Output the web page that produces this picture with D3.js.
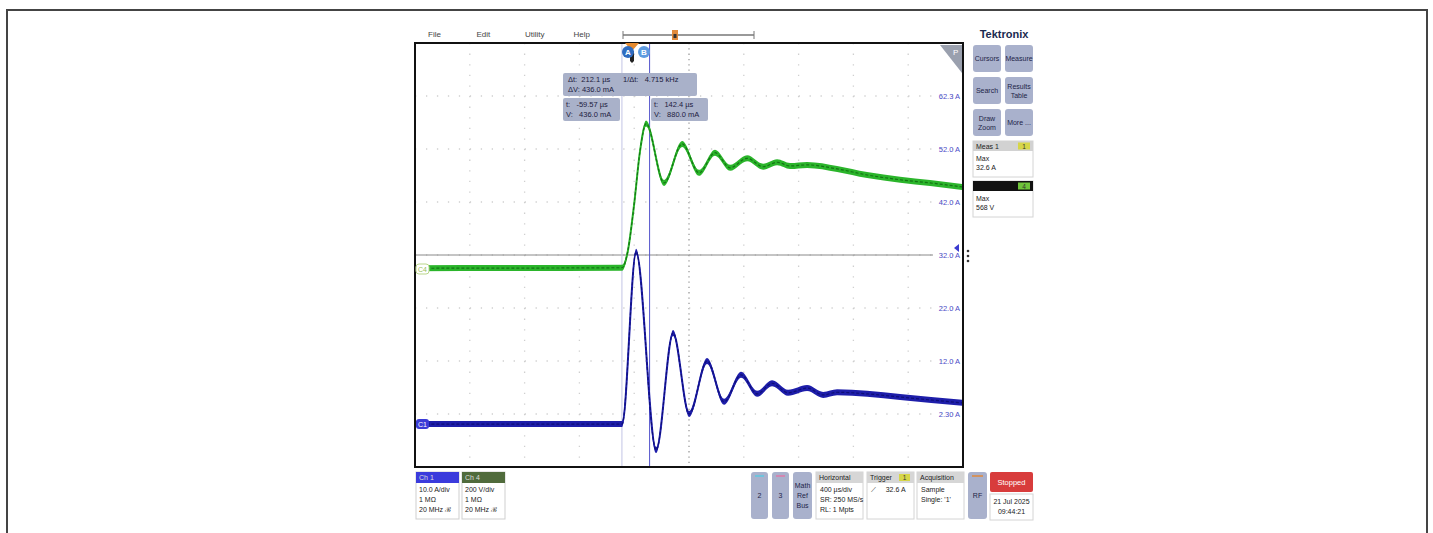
<!DOCTYPE html>
<html>
<head>
<meta charset="utf-8">
<script src="https://cdn.jsdelivr.net/npm/d3@7"></script>
<style>
	body { margin: 0; background: #fff; }
	text { font-family: "Liberation Sans Narrow", "Liberation Sans", Arial, sans-serif; }
</style>
</head>
<body>
<div id="scope"></div>
<script>
/* SET UP */

const w = 1433;
const h = 533;
const plot = { top: 43, right: 963, bottom: 467, left: 415 };

/* DATA */

// Ch1 current (µs, A)
const ch1Time = [-1560, -58, 44, 190, 314, 431, 562, 686, 810, 927, 1037, 1153, 1292, 1409, 1511, 1730, 1971, 2424];
const ch1Amps = [0.1, 0.1, 32.6, -4.8, 17.3, 2.0, 12.0, 4.3, 9.4, 5.8, 7.8, 6.0, 6.9, 5.6, 6.1, 5.8, 5.2, 4.1];

// Ch4 voltage (µs, V)
const ch4Time = [-1560, -58, -15, 29, 73, 117, 248, 380, 504, 620, 730, 854, 971, 1073, 1168, 1292, 1511, 1730, 1971, 2190, 2424];
const ch4Volts = [6, 8, 75, 245, 450, 552, 328, 475, 366, 442, 385, 421, 389, 406, 392, 396, 381, 358, 340, 328, 313];

const ampTicks = [62, 52, 42, 32, 22, 12, 2];
const ampLabels = ["62.3 A", "52.0 A", "42.0 A", "32.0 A", "22.0 A", "12.0 A", "2.30 A"];

const menuLabels = ["File", "Edit", "Utility", "Help"];

const cursorA = -59.57;
const cursorB = 142.4;
const readDelta = ["Δt:  212.1 µs", "1/Δt:   4.715 kHz", "ΔV: 436.0 mA"];
const readA = ["t:   -59.57 µs", "V:   436.0 mA"];
const readB = ["t:   142.4 µs", "V:   880.0 mA"];

const sideButtons = [["Cursors"], ["Measure"], ["Search"], ["Results", "Table"], ["Draw", "Zoom"], ["More ..."]];
const meas1 = ["Max", "32.6 A"];
const meas2 = ["Max", "568 V"];

const ch1Info = ["10.0 A/div", "1 MΩ", "20 MHz ℬ"];
const ch4Info = ["200 V/div", "1 MΩ", "20 MHz ℬ"];
const horizInfo = ["400 µs/div", "SR: 250 MS/s", "RL: 1 Mpts"];
const acqInfo = ["Sample", "Single: '1'"];
const dateInfo = ["21 Jul 2025", "09:44:21"];

/* SCALES */

const x = d3.scaleLinear().domain([-1570, 2430]).range([plot.left, plot.right]);
const yI = d3.scaleLinear().domain([-8, 72]).range([plot.bottom, plot.top]);
const yV = d3.scaleLinear().domain([-744, 856]).range([plot.bottom, plot.top]);
const gx = d3.scaleLinear().domain([0, 10]).range([plot.left, plot.right]);
const gy = d3.scaleLinear().domain([0, 8]).range([plot.top, plot.bottom]);

const svg = d3
	.select("#scope")
	.append("svg")
	.attr("width", w)
	.attr("height", h);

svg.append("rect").attr("width", w).attr("height", h).attr("fill", "#fff");

// outer frame of the screenshot
svg
	.append("rect")
	.attr("x", 7)
	.attr("y", 10)
	.attr("width", 1420)
	.attr("height", 540)
	.attr("fill", "none")
	.attr("stroke", "#444")
	.attr("stroke-width", 2);

/* MENU BAR */

svg
	.selectAll(".menu")
	.data(menuLabels)
	.join("text")
	.attr("class", "menu")
	.attr("x", (d, i) => 428 + i * 48.5)
	.attr("y", 37)
	.attr("font-size", 8)
	.attr("fill", "#444")
	.text((d) => d);

svg.append("line").attr("x1", 623).attr("x2", 754).attr("y1", 35).attr("y2", 35)
	.attr("stroke", "#999").attr("stroke-width", 2);
[623, 754].forEach((v) =>
	svg.append("line").attr("x1", v).attr("x2", v).attr("y1", 31).attr("y2", 39).attr("stroke", "#777"));
svg.append("rect").attr("x", 672).attr("y", 30).attr("width", 6).attr("height", 10).attr("fill", "#e08a3c");
svg.append("rect").attr("x", 673.5).attr("y", 34).attr("width", 3).attr("height", 4).attr("fill", "#333");

/* GRID */

const grid = svg.append("g");
grid
	.selectAll(".vgrid")
	.data(d3.range(1, 10))
	.join("line")
	.attr("x1", (d) => gx(d))
	.attr("x2", (d) => gx(d))
	.attr("y1", plot.top)
	.attr("y2", plot.bottom)
	.attr("stroke", (d) => (d == 5 ? "#9a9a9a" : "#cfcfcf"))
	.attr("stroke-width", 1.3)
	.attr("stroke-dasharray", (d) => (d == 5 ? "1.3,4" : "1.3,9.3"));

grid
	.selectAll(".hgrid")
	.data(d3.range(1, 8))
	.join("line")
	.attr("x1", plot.left)
	.attr("x2", plot.right)
	.attr("y1", (d) => gy(d))
	.attr("y2", (d) => gy(d))
	.attr("stroke", "#cfcfcf")
	.attr("stroke-width", 1.3)
	.attr("stroke-dasharray", "1.3,9.66");

// centre reference line
grid.append("line")
	.attr("x1", plot.left).attr("x2", 933)
	.attr("y1", gy(4)).attr("y2", gy(4))
	.attr("stroke", "#8a8a8a").attr("stroke-width", 1);

/* CURSORS */

svg.append("line").attr("x1", x(cursorA)).attr("x2", x(cursorA))
	.attr("y1", plot.top).attr("y2", plot.bottom)
	.attr("stroke", "#c2c4e6").attr("stroke-width", 1);
svg.append("line").attr("x1", x(cursorB)).attr("x2", x(cursorB))
	.attr("y1", plot.top).attr("y2", plot.bottom)
	.attr("stroke", "#5252cc").attr("stroke-width", 1);

/* TRACES */

function trace(times, vals, yScale, fill, dark) {
	const pts = times.map((t, i) => [t, vals[i]]);
	const band = d3
		.area()
		.x((d) => x(d[0]))
		.y0((d) => yScale(d[1]) - 3)
		.y1((d) => yScale(d[1]) + 3)
		.curve(d3.curveMonotoneX);
	const mid = d3
		.line()
		.x((d) => x(d[0]))
		.y((d) => yScale(d[1]))
		.curve(d3.curveMonotoneX);
	svg.append("path").attr("d", band(pts)).attr("fill", fill);
	svg.append("path").attr("d", mid(pts)).attr("fill", "none")
		.attr("stroke", fill).attr("stroke-width", 2);
	svg.append("path").attr("d", mid(pts)).attr("fill", "none")
		.attr("stroke", dark).attr("stroke-width", 1.2)
		.attr("stroke-dasharray", "3,2").attr("opacity", 0.75);
}

trace(ch4Time, ch4Volts, yV, "#2bb52b", "#0d5e0d");
trace(ch1Time, ch1Amps, yI, "#1e1eaa", "#0a0a66");

/* PLOT FRAME */

svg.append("rect")
	.attr("x", plot.left).attr("y", plot.top)
	.attr("width", plot.right - plot.left).attr("height", plot.bottom - plot.top)
	.attr("fill", "none").attr("stroke", "#111").attr("stroke-width", 2);

// corner badge
svg.append("path").attr("d", "M940,45 L962,45 L962,73 Z").attr("fill", "#9aa0ae");
svg.append("text").attr("x", 953).attr("y", 55).attr("font-size", 8).attr("fill", "#fff").text("P");

// right axis labels
svg
	.selectAll(".ylab")
	.data(ampTicks)
	.join("text")
	.attr("class", "ylab")
	.attr("x", 960)
	.attr("y", (d, i) => yI(d) + 2.5)
	.attr("text-anchor", "end")
	.attr("font-size", 7.5)
	.attr("fill", "#4b4bc8")
	.text((d, i) => ampLabels[i]);

// offset marker and dots
svg.append("path").attr("d", "M954,248 L959,244 L959,252 Z").attr("fill", "#3a3ad0");
[251, 256, 261].forEach((v) =>
	svg.append("circle").attr("cx", 968).attr("cy", v).attr("r", 1.3).attr("fill", "#333"));

// channel tags on left edge
svg.append("rect").attr("x", 416).attr("y", 264).attr("width", 13).attr("height", 10).attr("rx", 3)
	.attr("fill", "#fff").attr("stroke", "#b9d68a");
svg.append("text").attr("x", 418).attr("y", 272).attr("font-size", 7).attr("fill", "#9bc05a").text("C4");
svg.append("rect").attr("x", 416).attr("y", 419).attr("width", 13).attr("height", 10).attr("rx", 3)
	.attr("fill", "#3b3bd6");
svg.append("text").attr("x", 418).attr("y", 427).attr("font-size", 7).attr("fill", "#fff").text("C1");

/* CURSOR READOUTS */

function readout(bx, by, bw, bh, lines, xs) {
	svg.append("rect").attr("x", bx).attr("y", by).attr("width", bw).attr("height", bh)
		.attr("rx", 2).attr("fill", "#a9b1c9");
	lines.forEach((l, i) => {
		svg.append("text").attr("x", bx + xs[i][0]).attr("y", by + xs[i][1])
			.attr("font-size", 7.5).attr("fill", "#1d2040").attr("xml:space", "preserve").text(l);
	});
}
readout(563, 73, 134, 23, readDelta, [[5, 9], [60, 9], [5, 19]]);
readout(563, 98, 57, 23, readA, [[3, 9], [3, 19]]);
readout(651, 98, 57, 23, readB, [[3, 9], [3, 19]]);

// cursor handles and trigger marker
svg.append("path").attr("d", "M625,43 L639,43 L632,51 Z").attr("fill", "#e58a2f");
svg.append("path").attr("d", "M630,51 L634,51 L634,61 L632,63 L630,61 Z").attr("fill", "#222");
svg.append("circle").attr("cx", 628).attr("cy", 52).attr("r", 6).attr("fill", "#2f6cc0");
svg.append("text").attr("x", 628).attr("y", 55).attr("text-anchor", "middle").attr("font-size", 8)
	.attr("font-weight", "bold").attr("fill", "#fff").text("A");
svg.append("circle").attr("cx", 644).attr("cy", 52).attr("r", 6).attr("fill", "#5d9be0");
svg.append("text").attr("x", 644).attr("y", 55).attr("text-anchor", "middle").attr("font-size", 8)
	.attr("font-weight", "bold").attr("fill", "#fff").text("B");

/* RIGHT PANEL */

svg.append("text").attr("x", 1004).attr("y", 38).attr("text-anchor", "middle")
	.attr("font-size", 11).attr("font-weight", "bold").attr("fill", "#1a2a50").text("Tektronix");

sideButtons.forEach((lines, i) => {
	const bx = i % 2 == 0 ? 973 : 1005;
	const by = 45 + Math.floor(i / 2) * 32;
	svg.append("rect").attr("x", bx).attr("y", by).attr("width", 28).attr("height", 27)
		.attr("rx", 3).attr("fill", "#a9b1cc");
	lines.forEach((l, j) => {
		svg.append("text").attr("x", bx + 14)
			.attr("y", by + 16 + (j - (lines.length - 1) / 2) * 9)
			.attr("text-anchor", "middle").attr("font-size", 7).attr("fill", "#1d2448").text(l);
	});
});

function measBox(by, head, headFill, badgeFill, badge, lines, headColor) {
	svg.append("rect").attr("x", 973).attr("y", by).attr("width", 60).attr("height", 36)
		.attr("fill", "#fff").attr("stroke", "#d4d4d4");
	svg.append("rect").attr("x", 973).attr("y", by).attr("width", 60).attr("height", 10).attr("fill", headFill);
	svg.append("text").attr("x", 976).attr("y", by + 8).attr("font-size", 7).attr("fill", headColor).text(head);
	svg.append("rect").attr("x", 1018).attr("y", by + 1.5).attr("width", 12).attr("height", 7).attr("fill", badgeFill);
	svg.append("text").attr("x", 1024).attr("y", by + 7.5).attr("text-anchor", "middle").attr("font-size", 6.5)
		.attr("fill", "#333").text(badge);
	lines.forEach((l, j) => {
		svg.append("text").attr("x", 976).attr("y", by + 20 + j * 9).attr("font-size", 7).attr("fill", "#222").text(l);
	});
}
measBox(141, "Meas 1", "#d2d2d2", "#d6d648", "1", meas1, "#222");
measBox(181, "", "#111", "#6fc43a", "4", meas2, "#fff");

/* BOTTOM BAR */

function chanBox(bx, head, headFill, lines) {
	svg.append("rect").attr("x", bx).attr("y", 472).attr("width", 43).attr("height", 47)
		.attr("fill", "#fff").attr("stroke", "#cfcfcf");
	svg.append("rect").attr("x", bx).attr("y", 472).attr("width", 43).attr("height", 11).attr("fill", headFill);
	svg.append("text").attr("x", bx + 3).attr("y", 480).attr("font-size", 7).attr("fill", "#ddd").text(head);
	lines.forEach((l, j) => {
		svg.append("text").attr("x", bx + 3).attr("y", 492 + j * 10).attr("font-size", 7).attr("fill", "#222").text(l);
	});
}
chanBox(416, "Ch 1", "#3b3bdc", ch1Info);
chanBox(462, "Ch 4", "#506b3c", ch4Info);

function softKey(bx, bw, lines, accent) {
	svg.append("rect").attr("x", bx).attr("y", 472).attr("width", bw).attr("height", 47)
		.attr("rx", 3).attr("fill", "#a9b1cc");
	if (accent) {
		svg.append("line").attr("x1", bx + 4).attr("x2", bx + bw - 4).attr("y1", 476).attr("y2", 476)
			.attr("stroke", accent).attr("stroke-width", 1.5);
	}
	lines.forEach((l, j) => {
		svg.append("text").attr("x", bx + bw / 2)
			.attr("y", 498 + (j - (lines.length - 1) / 2) * 10)
			.attr("text-anchor", "middle").attr("font-size", 7).attr("fill", "#1d2448").text(l);
	});
}
softKey(751, 17, ["2"], "#5ec8e0");
softKey(772, 17, ["3"], "#e07aa8");
softKey(793, 19, ["Math", "Ref", "Bus"], null);
softKey(968, 19, ["RF"], "#e08a3c");

function infoBox(bx, head, lines, badge) {
	svg.append("rect").attr("x", bx).attr("y", 472).attr("width", 47).attr("height", 47)
		.attr("fill", "#fff").attr("stroke", "#d4d4d4");
	svg.append("rect").attr("x", bx).attr("y", 472).attr("width", 47).attr("height", 11).attr("fill", "#d6d6d6");
	svg.append("text").attr("x", bx + 3).attr("y", 480).attr("font-size", 7).attr("fill", "#222").text(head);
	if (badge) {
		svg.append("rect").attr("x", bx + 32).attr("y", 474).attr("width", 11).attr("height", 7).attr("fill", "#d6d648");
		svg.append("text").attr("x", bx + 37.5).attr("y", 480).attr("text-anchor", "middle")
			.attr("font-size", 6.5).attr("fill", "#333").text(badge);
	}
	lines.forEach((l, j) => {
		svg.append("text").attr("x", bx + 4).attr("y", 492 + j * 10).attr("font-size", 7)
			.attr("fill", "#222").attr("xml:space", "preserve").text(l);
	});
}
infoBox(816, "Horizontal", horizInfo, null);
infoBox(867, "Trigger", ["⟋     32.6 A"], "1");
infoBox(917, "Acquisition", acqInfo, null);

svg.append("rect").attr("x", 990).attr("y", 472).attr("width", 43).attr("height", 20).attr("rx", 2).attr("fill", "#d83c3c");
svg.append("text").attr("x", 1011.5).attr("y", 485).attr("text-anchor", "middle").attr("font-size", 7.5)
	.attr("fill", "#fff").text("Stopped");
svg.append("rect").attr("x", 990).attr("y", 494).attr("width", 43).attr("height", 26).attr("fill", "#fff").attr("stroke", "#d4d4d4");
dateInfo.forEach((l, j) => {
	svg.append("text").attr("x", 1011.5).attr("y", 504 + j * 10).attr("text-anchor", "middle")
		.attr("font-size", 7).attr("fill", "#222").text(l);
});
</script>
</body>
</html>
